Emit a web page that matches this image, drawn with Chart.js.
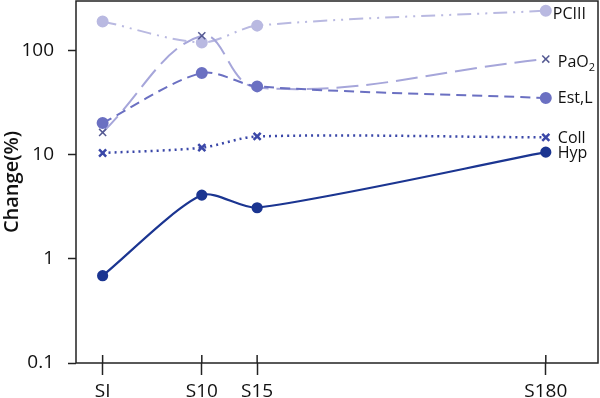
<!DOCTYPE html>
<html>
<head>
<meta charset="utf-8">
<script src="https://cdn.jsdelivr.net/npm/chart.js@4"></script>
<style>
  html, body { margin: 0; padding: 0; background: #fff; }
  #wrap { width: 600px; height: 398px; }
</style>
</head>
<body>
<div id="wrap"><canvas id="chart"></canvas></div>
<script>
// stages along the x axis and where they sit on it
var stages = ["SI", "S10", "S15", "S180"];
var stageX = [5.1, 24.1, 34.7, 90];

// series values (% change)
var pciii = [191, 120, 174, 242];
var pao2 = [16.4, 139, 44, 83];
var estL = [20.2, 61, 45.4, 35.1];
var coll = [10.4, 11.7, 15, 14.7];
var hyp = [0.69, 4.1, 3.1, 10.6];

var yTicks = [0.1, 1, 10, 100];

function pts(vals) {
  return vals.map(function (v, i) { return { x: stageX[i], y: v }; });
}

var FONT = "'Open Sans', 'Liberation Sans', sans-serif";

// frame, inner tick marks and the series names at the end of each line
var extras = {
  id: "extras",
  afterDraw: function (chart) {
    var c = chart.ctx, a = chart.chartArea;
    var xs = chart.scales.x;
    c.save();
    c.strokeStyle = "#222";
    c.lineWidth = 1.5;
    c.strokeRect(a.left, a.top, a.right - a.left, a.bottom - a.top);
    stageX.forEach(function (v) {
      var px = xs.getPixelForValue(v);
      c.beginPath();
      c.moveTo(px, a.bottom);
      c.lineTo(px, a.bottom - 8);
      c.stroke();
    });
    c.fillStyle = "#111";
    c.font = "16px " + FONT;
    c.textBaseline = "middle";
    chart.data.datasets.forEach(function (ds, i) {
      var el = chart.getDatasetMeta(i).data[ds.data.length - 1];
      var tx = el.x + (ds.nameDx || 12), ty = el.y + (ds.nameDy || 0);
      if (ds.label === "PaO2") {
        c.fillText("PaO", tx, ty);
        var w = c.measureText("PaO").width;
        c.font = "11px " + FONT;
        c.fillText("2", tx + w, ty + 6);
        c.font = "16px " + FONT;
      } else {
        c.fillText(ds.label, tx, ty);
      }
    });
    c.restore();
  }
};

new Chart(document.getElementById("chart"), {
  type: "line",
  data: {
    datasets: [
      {
        label: "Hyp",
        data: pts(hyp),
        borderColor: "#1b3591",
        backgroundColor: "#1b3591",
        borderWidth: 2.2,
        tension: 0.25,
        pointStyle: "circle",
        pointRadius: 4.5,
        nameDy: 1,
        order: 1
      },
      {
        label: "Coll",
        data: pts(coll),
        borderColor: "#3a47a8",
        backgroundColor: "#3a47a8",
        borderWidth: 2.5,
        borderDash: [2, 4],
        tension: 0.3,
        pointStyle: "crossRot",
        pointRadius: 5,
        pointBorderWidth: 2.5,
        nameDy: 1,
        order: 2
      },
      {
        label: "Est,L",
        data: pts(estL),
        borderColor: "#6b70c2",
        backgroundColor: "#6b70c2",
        borderWidth: 2,
        borderDash: [10, 6],
        tension: 0.3,
        pointStyle: "circle",
        pointRadius: 5,
        order: 3
      },
      {
        label: "PaO2",
        data: pts(pao2),
        borderColor: "#a6a6da",
        backgroundColor: "#a6a6da",
        borderWidth: 2,
        borderDash: [22, 8],
        tension: 0.4,
        pointStyle: "crossRot",
        pointRadius: [5, 5, 0, 5],
        pointBorderColor: "#555a92",
        pointBorderWidth: 1.5,
        nameDy: 3,
        order: 4
      },
      {
        label: "PCIII",
        data: pts(pciii),
        borderColor: "#b9b9e1",
        backgroundColor: "#b9b9e1",
        borderWidth: 2,
        borderDash: [14, 6, 2, 6, 2, 6],
        tension: 0.3,
        pointStyle: "circle",
        pointRadius: 5,
        nameDx: 7,
        nameDy: 4,
        order: 5
      }
    ]
  },
  options: {
    responsive: true,
    maintainAspectRatio: false,
    animation: false,
    layout: { autoPadding: false, padding: { top: 1, right: 2, left: 0, bottom: 0 } },
    elements: { line: { fill: false } },
    plugins: {
      legend: { display: false },
      tooltip: { enabled: false }
    },
    scales: {
      x: {
        type: "linear",
        min: 0,
        max: 100,
        afterBuildTicks: function (s) {
          s.ticks = stageX.map(function (v) { return { value: v }; });
        },
        afterFit: function (s) {
          s.height = 35;
          s.paddingLeft = 0;
          s.paddingRight = 0;
        },
        ticks: {
          autoSkip: false,
          maxRotation: 0,
          padding: 5,
          color: "#111",
          font: { family: FONT, size: 19 },
          callback: function (v) { return stages[stageX.indexOf(v)]; }
        },
        grid: {
          drawOnChartArea: false,
          drawTicks: true,
          tickLength: 12,
          tickWidth: 1.5,
          tickColor: "#222"
        },
        border: { display: false }
      },
      y: {
        type: "logarithmic",
        min: 0.1,
        max: 300,
        afterBuildTicks: function (s) {
          s.ticks = yTicks.map(function (v) { return { value: v }; });
        },
        afterFit: function (s) {
          s.width = 76;
          s.paddingTop = 0;
          s.paddingBottom = 0;
        },
        title: {
          display: true,
          text: "Change(%)",
          color: "#111",
          font: { family: FONT, size: 20, weight: "600" },
          padding: { top: 0, bottom: 0 }
        },
        ticks: {
          padding: 14,
          color: "#111",
          font: { family: FONT, size: 19 },
          callback: function (v) { return String(v); }
        },
        grid: {
          drawOnChartArea: false,
          drawTicks: true,
          tickLength: 8,
          tickWidth: 1.5,
          tickColor: "#222"
        },
        border: { display: false }
      }
    }
  },
  plugins: [extras]
});
</script>
</body>
</html>
